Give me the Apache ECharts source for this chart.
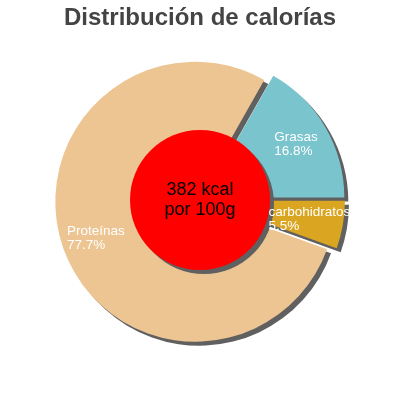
<!DOCTYPE html>
<html>
<head>
<meta charset="utf-8">
<script src="https://cdn.jsdelivr.net/npm/echarts@6/dist/echarts.min.js"></script>
<style>
html,body{margin:0;padding:0;background:#fff;}
#chart{width:400px;height:400px;}
</style>
</head>
<body>
<div id="chart"></div>
<script>
const titleText = 'Distribución de calorías';
const categories = ['Grasas', 'carbohidratos', 'Proteínas'];
const percents = [16.8, 5.5, 77.7];
const colors = ['#7ac4cd', '#daa520', '#edc592'];
const centerLines = ['382 kcal', 'por 100g'];

const sliceData = categories.map((name, i) => ({
  name: name,
  value: percents[i],
  selected: true,
  itemStyle: { color: colors[i] }
}));
const labelData = categories.map((name, i) => ({
  name: name,
  value: percents[i],
  selected: true
}));

const chart = echarts.init(document.getElementById('chart'), null, { renderer: 'canvas' });
chart.setOption({
  animation: false,
  title: {
    text: titleText,
    left: 'center',
    top: 6,
    padding: 0,
    textStyle: { fontFamily: 'Liberation Sans', fontWeight: 'bold', fontSize: 24, color: '#444444' }
  },
  series: [
    {
      type: 'pie',
      center: [200, 200],
      radius: [0, 140],
      startAngle: 360 * percents[0] / 100,
      clockwise: true,
      selectedMode: 'multiple',
      selectedOffset: 5,
      silent: true,
      label: { show: false },
      labelLine: { show: false },
      itemStyle: { shadowColor: '#606060', shadowBlur: 0, shadowOffsetX: 4, shadowOffsetY: 4 },
      emphasis: { disabled: true },
      data: sliceData
    },
    {
      type: 'pie',
      center: [200, 200],
      radius: [66, 140],
      startAngle: 360 * percents[0] / 100,
      clockwise: true,
      selectedMode: 'multiple',
      selectedOffset: 5,
      silent: true,
      itemStyle: { color: 'rgba(0,0,0,0)' },
      emphasis: { disabled: true },
      labelLine: { show: false },
      label: {
        show: true,
        position: 'inside',
        formatter: p => '{a|' + p.name + '}\n{a|' + p.value.toFixed(1) + '%}',
        rich: {
          a: { align: 'left', color: '#ffffff', fontSize: 13.5, lineHeight: 14, fontFamily: 'Liberation Sans' }
        }
      },
      data: labelData
    },
    {
      type: 'pie',
      center: [200, 200],
      radius: [0, 70],
      silent: true,
      emphasis: { disabled: true },
      itemStyle: { color: '#ff0000', shadowColor: '#606060', shadowBlur: 0, shadowOffsetX: 4, shadowOffsetY: 4 },
      labelLine: { show: false },
      label: {
        show: true,
        position: 'center',
        formatter: centerLines.join('\n'),
        color: '#000000',
        fontSize: 18,
        lineHeight: 20,
        fontFamily: 'Liberation Sans'
      },
      data: [{ name: 'kcal', value: 1 }]
    }
  ]
});
</script>
</body>
</html>
